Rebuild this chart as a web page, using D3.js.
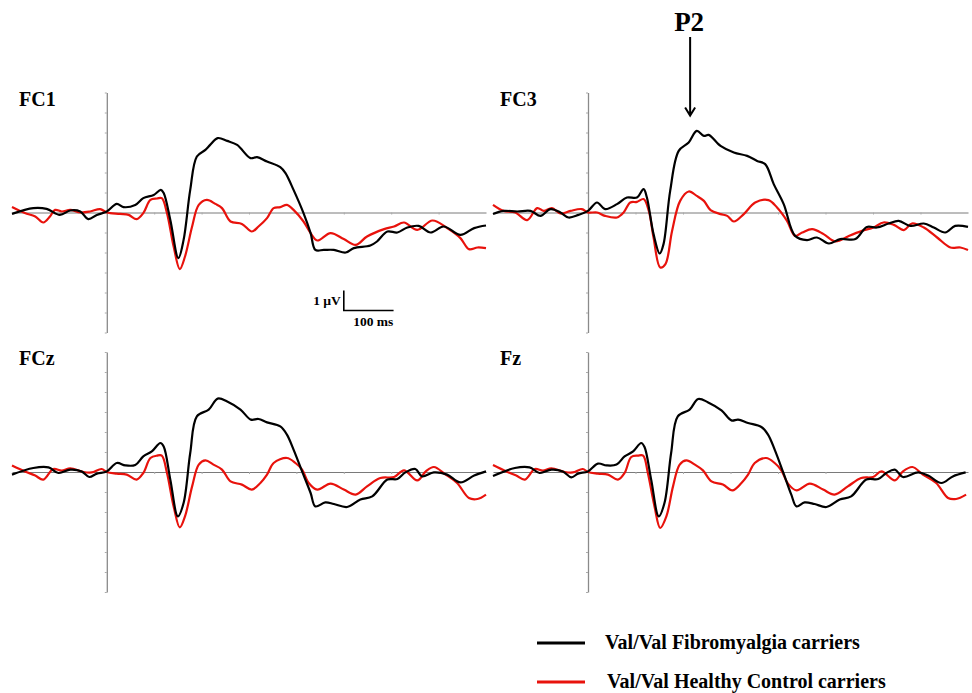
<!DOCTYPE html>
<html>
<head>
<meta charset="utf-8">
<script src="https://cdn.jsdelivr.net/npm/d3@7"></script>
<style>
  html, body { margin: 0; padding: 0; background: #fff; }
  svg { display: block; font-family: "Liberation Serif", "Times New Roman", serif; font-weight: bold; }
</style>
</head>
<body>
<svg width="972" height="693"></svg>
<script>
// ERP grand averages, [time in ms, amplitude in µV]

const fc1Fibro = [[-200,-0.07],[-155,0.22],[-127,0.18],[-99,-0.12],[-77,0.1],[-56,0.05],[-39,-0.33],[-21,-0.12],[0,0.05],[21,0.43],[35,0.27],[60,0.38],[77,0.72],[99,0.88],[114,1.13],[120,0.97],[134,-0.37],[151,-2.28],[162,-1.37],[176,1.13],[190,2.8],[208,3.13],[218,3.38],[234,3.72],[254,3.58],[275,3.38],[303,2.72],[317,2.77],[338,2.55],[366,2.27],[377,1.97],[394,1.13],[415,-0.03],[430,-1.03],[440,-1.87],[458,-1.87],[479,-1.87],[504,-2.0],[521,-1.78],[556,-1.65],[570,-1.45],[592,-0.95],[613,-1.0],[634,-0.75],[658,-0.67],[683,-1.0],[711,-0.7],[746,-1.12],[775,-0.78],[800,-0.65]];
const fc1Control = [[-200,0.27],[-173,-0.03],[-151,-0.2],[-134,-0.5],[-120,-0.2],[-109,0.13],[-95,0.05],[-77,0.13],[-56,0],[-35,0.05],[-14,0.17],[0,0],[28,-0.07],[46,-0.12],[63,-0.33],[77,-0.03],[92,0.63],[106,0.7],[116,0.72],[127,-0.03],[141,-1.7],[154,-2.83],[165,-2.2],[180,-0.7],[194,0.38],[211,0.63],[229,0.43],[243,0.22],[261,-0.45],[285,-0.57],[306,-0.95],[320,-0.7],[338,-0.28],[352,0.22],[366,0.27],[380,0.38],[394,0.13],[415,-0.45],[430,-1.03],[444,-1.4],[472,-1.03],[500,-1.33],[525,-1.62],[549,-1.2],[585,-0.83],[606,-0.7],[627,-0.5],[655,-0.87],[687,-0.4],[718,-0.78],[746,-1.28],[764,-1.83],[782,-1.75],[800,-1.78]];

const fc3Fibro = [[-200,-0.08],[-178,0.08],[-149,0.05],[-121,0.08],[-100,-0.17],[-79,0.17],[-58,0],[-41,-0.25],[-20,-0.12],[0,0.08],[19,0.5],[36,0.17],[61,0.42],[82,0.75],[103,0.75],[117,1.17],[124,0.75],[138,-1.08],[151,-2.05],[159,-1.58],[173,1.08],[191,3.08],[212,3.5],[229,4.08],[244,3.83],[254,3.88],[279,3.33],[307,3.0],[335,2.83],[356,2.58],[373,2.42],[391,1.42],[412,0.42],[436,-1.17],[461,-1.38],[482,-1.25],[507,-1.55],[531,-1.33],[563,-1.33],[587,-0.72],[608,-0.75],[633,-0.55],[654,-0.42],[679,-0.67],[707,-0.55],[728,-0.75],[752,-1.0],[773,-0.67],[800,-0.72]];
const fc3Control = [[-200,0.38],[-178,0.08],[-153,0],[-128,-0.38],[-107,0.22],[-93,0.08],[-76,0.22],[-58,-0.05],[-37,0.08],[-13,0.17],[0,0],[19,0],[36,-0.17],[61,-0.25],[75,0],[89,0.5],[103,0.53],[117,0.67],[128,0.08],[138,-1.25],[152,-2.75],[163,-2.58],[177,-0.92],[194,0.58],[212,1.05],[229,0.83],[244,0.58],[258,0.12],[279,-0.08],[293,-0.17],[307,-0.45],[328,-0.08],[352,0.5],[380,0.62],[398,0.25],[419,-0.42],[436,-1.17],[451,-1.0],[472,-0.83],[496,-1.08],[521,-1.45],[549,-1.17],[577,-0.92],[601,-0.75],[622,-0.5],[644,-0.62],[665,-0.88],[682,-0.55],[707,-0.75],[735,-1.25],[763,-1.75],[784,-1.75],[800,-1.88]];

const fczFibro = [[-200,-0.13],[-155,0.2],[-123,0.23],[-102,-0.05],[-77,0.12],[-53,0.03],[-37,-0.25],[-21,-0.08],[0,0.03],[21,0.45],[39,0.33],[60,0.35],[77,0.78],[95,1.03],[113,1.45],[120,1.28],[134,-0.38],[150,-2.22],[162,-1.55],[176,0.95],[190,2.78],[215,3.12],[234,3.67],[254,3.53],[282,3.12],[304,2.62],[320,2.65],[338,2.48],[366,2.28],[380,1.87],[394,1.12],[412,0.03],[430,-1.05],[440,-1.72],[461,-1.52],[479,-1.6],[507,-1.75],[535,-1.38],[560,-1.22],[592,-0.38],[613,-0.35],[630,-0.02],[651,0.15],[665,-0.22],[690,-0.02],[718,-0.13],[746,-0.52],[775,-0.18],[800,0.03]];
const fczControl = [[-200,0.32],[-173,0.03],[-151,-0.18],[-134,-0.38],[-113,0.15],[-95,0.07],[-77,0.18],[-49,0],[-32,-0.02],[-11,0.15],[0,0],[21,-0.08],[42,-0.13],[63,-0.38],[77,-0.05],[92,0.7],[106,0.82],[116,0.82],[127,-0.05],[141,-1.72],[154,-2.77],[165,-2.22],[180,-0.72],[194,0.37],[208,0.58],[225,0.37],[243,0.12],[261,-0.47],[285,-0.63],[306,-0.88],[324,-0.55],[338,-0.13],[352,0.45],[380,0.7],[398,0.45],[412,0.12],[426,-0.55],[444,-0.88],[472,-0.58],[500,-0.88],[525,-1.13],[549,-0.72],[577,-0.3],[606,-0.25],[627,0.08],[655,-0.42],[673,0.03],[690,0.25],[715,-0.13],[739,-0.55],[764,-1.3],[782,-1.35],[800,-1.13]];

const fzFibro = [[-200,-0.2],[-154,0.2],[-123,0.23],[-102,-0.05],[-77,0.12],[-53,0.03],[-35,-0.27],[-21,-0.08],[0,0.03],[21,0.42],[39,0.33],[60,0.37],[77,0.78],[95,1.03],[112,1.45],[119,1.25],[133,-0.38],[149,-2.22],[161,-1.55],[175,0.95],[189,2.78],[214,3.12],[232,3.65],[253,3.48],[281,3.08],[302,2.58],[316,2.62],[337,2.45],[365,2.25],[379,1.87],[393,1.12],[411,-0.02],[428,-1.13],[439,-1.72],[456,-1.52],[477,-1.6],[502,-1.75],[530,-1.38],[554,-1.22],[586,-0.38],[611,-0.35],[628,-0.05],[646,0.12],[663,-0.25],[695,-0.02],[716,-0.18],[744,-0.55],[768,-0.22],[795,-0.02]];
const fzControl = [[-200,0.35],[-172,0.03],[-151,-0.18],[-133,-0.38],[-112,0.15],[-95,0.07],[-77,0.18],[-49,0],[-32,-0.02],[-11,0.15],[0,0],[21,-0.08],[42,-0.13],[63,-0.38],[77,-0.05],[91,0.75],[105,0.82],[116,0.82],[126,-0.05],[140,-1.72],[152,-2.8],[165,-2.22],[179,-0.72],[193,0.37],[207,0.58],[225,0.37],[242,0.08],[260,-0.47],[284,-0.63],[304,-0.92],[323,-0.55],[337,-0.13],[351,0.45],[375,0.7],[393,0.45],[407,0.08],[421,-0.58],[439,-0.92],[467,-0.58],[495,-0.88],[519,-1.13],[547,-0.72],[575,-0.3],[600,-0.25],[618,0.03],[646,-0.42],[663,0.03],[683,0.25],[705,-0.13],[733,-0.55],[758,-1.3],[775,-1.35],[796,-1.13]];

const channels = ["FC1", "FC3", "FCz", "Fz"];
const groups = ["Val/Val Fibromyalgia carriers", "Val/Val Healthy Control carriers"];
const timeDomain = [-200, 800];     // ms
const ampDomain = [-6, 6];          // µV
const timeTicks = [-100, 100, 200, 300, 400, 500, 600, 700];

const svg = d3.select("svg");
svg.append("rect").attr("width", 972).attr("height", 693).attr("fill", "#fff");

// panel placement
const panels = [
  { name: channels[0], x0: 12,  x1: 486, base: 212.5, fibro: fc1Fibro, control: fc1Control },
  { name: channels[1], x0: 493, x1: 968, base: 212.5, fibro: fc3Fibro, control: fc3Control },
  { name: channels[2], x0: 12,  x1: 486, base: 472,   fibro: fczFibro, control: fczControl },
  { name: channels[3], x0: 493, x1: 968, base: 472,   fibro: fzFibro,  control: fzControl }
];

const colors = ["#000", "#e8120c"];

panels.forEach(p => {
  const x = d3.scaleLinear().domain(timeDomain).range([p.x0, p.x1]);
  const y = d3.scaleLinear().domain(ampDomain).range([p.base + 120, p.base - 120]);
  p.x = x; p.y = y;
  const g = svg.append("g");

  // baseline (0 µV)
  const xAxis = g.append("g")
    .attr("transform", `translate(0,${y(0)})`)
    .call(d3.axisBottom(x).tickValues(timeTicks).tickSize(2).tickSizeOuter(0).tickFormat(""));
  xAxis.select(".domain").attr("stroke", "#7a7a7a").attr("stroke-width", 1);
  xAxis.selectAll(".tick line").attr("stroke", "#aaa");

  // stimulus onset axis
  const yAxis = g.append("g")
    .attr("transform", `translate(${x(0)},0)`)
    .call(d3.axisLeft(y).ticks(12).tickSize(2).tickSizeOuter(0).tickFormat(""));
  yAxis.select(".domain").attr("stroke", "#8a8a8a").attr("stroke-width", 1.3);
  yAxis.selectAll(".tick line").attr("stroke", "#aaa");

  const line = d3.line()
    .x(d => x(d[0]))
    .y(d => y(d[1]))
    .curve(d3.curveCatmullRom.alpha(0.5));

  g.append("path").datum(p.control)
    .attr("fill", "none").attr("stroke", colors[1]).attr("stroke-width", 2.2)
    .attr("stroke-linejoin", "round").attr("d", line);
  g.append("path").datum(p.fibro)
    .attr("fill", "none").attr("stroke", colors[0]).attr("stroke-width", 2.2)
    .attr("stroke-linejoin", "round").attr("d", line);

  g.append("text")
    .attr("x", p.x0 + 7).attr("y", p.base - 107)
    .attr("font-size", 20)
    .text(p.name);
});

// calibration bar in FC1: 1 µV / 100 ms
const cal = panels[0];
const calT = 500, calV = -4.9;
svg.append("path")
  .attr("fill", "none").attr("stroke", "#000").attr("stroke-width", 1.6)
  .attr("d", `M${cal.x(calT)},${cal.y(calV + 1)}V${cal.y(calV)}H${cal.x(calT + 105)}`);
svg.append("text")
  .attr("x", cal.x(calT) - 3).attr("y", cal.y(calV + 0.3))
  .attr("text-anchor", "end").attr("font-size", 13.5)
  .text("1 µV");
svg.append("text")
  .attr("x", cal.x(calT + 62)).attr("y", cal.y(calV) + 15)
  .attr("text-anchor", "middle").attr("font-size", 13.5)
  .text("100 ms");

// P2 marker over FC3
const fc3 = panels[1];
const p2T = 215;
const ax = fc3.x(p2T);
svg.append("text")
  .attr("x", ax - 1).attr("y", 31)
  .attr("text-anchor", "middle").attr("font-size", 27)
  .text("P2");
svg.append("path")
  .attr("fill", "none").attr("stroke", "#000").attr("stroke-width", 2)
  .attr("d", `M${ax},37V${fc3.y(4.85)}M${ax - 5},${fc3.y(4.85) - 8}L${ax},${fc3.y(4.85)}L${ax + 5},${fc3.y(4.85) - 8}`);

// legend
const legend = svg.append("g").attr("transform", "translate(537,643)");
groups.forEach((name, i) => {
  const row = legend.append("g").attr("transform", `translate(0,${i * 39})`);
  row.append("line").attr("x1", 0).attr("x2", 48)
    .attr("stroke", colors[i]).attr("stroke-width", 3);
  row.append("text").attr("x", 68 + i * 2).attr("y", 6)
    .attr("font-size", 20)
    .text(name);
});
</script>
</body>
</html>
